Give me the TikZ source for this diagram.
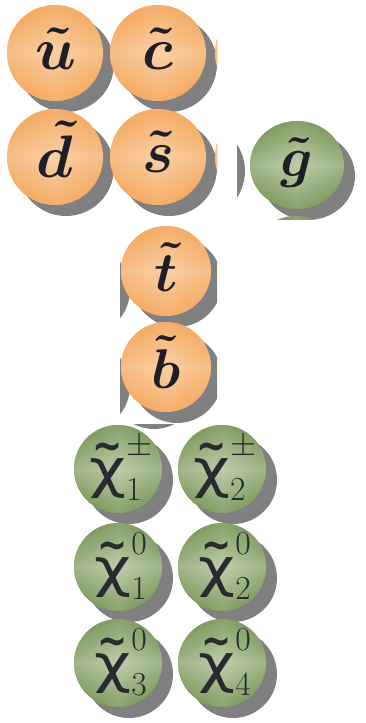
\RequirePackage{fix-cm}
\documentclass[tikz,border=0pt]{standalone}
\usepackage{graphicx}
\usepackage{fontspec}
\newfontfamily\chifont{DejaVu Sans}
\usetikzlibrary{calc}
\definecolor{sqedge}{HTML}{F39F4E}
\definecolor{sqlight}{HTML}{FDE6CC}
\definecolor{gnedge}{HTML}{6C8C48}
\definecolor{gnlight}{HTML}{E2EAD6}
\definecolor{shadowgray}{HTML}{808080}
\definecolor{ink}{HTML}{1E1E26}
\newcommand{\dropoff}{11}
\tikzset{
  balldrop/.style={fill=shadowgray},
  sqlbl/.style={text=ink, inner sep=0pt, font=\fontsize{60}{60}\selectfont\boldmath},
  tblbl/.style={sqlbl, font=\fontsize{56}{56}\selectfont\boldmath},
  chilbl/.style={text=ink!95, inner sep=0pt, font=\fontsize{48}{48}\selectfont},
}
\newcommand{\BallDrops}[2]{%
  \foreach \bx/\by in {#2} {
    \fill[balldrop] ({\bx+\dropoff},{\by+\dropoff}) circle[#1];
  }
}
\newcommand{\BallFills}[3]{%
  \foreach \bx/\by in {#3} {
    \fill[#2edge] (\bx,\by) circle[#1];
    \shade[left color=#2edge, right color=#2edge, middle color=#2light, fill opacity=.45] (\bx,\by) circle[#1];
    \shade[top color=#2edge, bottom color=#2edge, middle color=#2light, fill opacity=.45] (\bx,\by) circle[#1];
  }
}
\newcommand{\Chi}{\mbox{\chifont\vbox{\offinterlineskip\halign{\hfil##\hfil\cr
  \scalebox{0.75}[0.9]{\bfseries\char"007E}\cr\noalign{\kern-2pt}
  \scalebox{1.33}[1.1]{χ}\cr}}}}

\begin{document}
\begin{tikzpicture}[x=1pt,y=-1pt]
  \fill[white] (0,0) rectangle (365,723);
  \useasboundingbox (0,0) rectangle (365,723);
  \begin{scope}
    \clip (0,0) rectangle (217,219);
    \BallDrops{radius=48pt}{55/53,158/53,55/157,158/157}
    \BallFills{radius=48pt}{sq}{55/53,158/53,55/157,158/157,263/53,263/157}
    \foreach \q/\qx/\qy in {u/56/49,c/158/49,d/55/149,s/158/152}
      \node[sqlbl] (sq\q) at (\qx,\qy) {$\tilde{\q}$};
  \end{scope}
  \begin{scope}
    \clip (237,100) rectangle (365,219);
    \BallDrops{radius=48pt}{186/160}
    \BallDrops{x radius=47pt, y radius=44pt}{297/165}
    \BallFills{x radius=47pt, y radius=44pt}{gn}{297/165}
    \BallFills{radius=46pt}{gn}{296/262}
    \node[tblbl] (gluino) at (297,162) {$\tilde{g}$};
  \end{scope}
  \begin{scope}
    \clip (120,222) rectangle (217,423);
    \BallDrops{radius=45pt}{74/279,74/375,166/271,166/367}
    \BallFills{radius=45pt}{sq}{166/271,166/367}
    \node[tblbl] (sqt) at (166,267) {$\tilde{t}$};
    \node[tblbl] (sqb) at (166,362) {$\tilde{b}$};
  \end{scope}
  \begin{scope}
    \clip (0,424) rectangle (365,723);
    \BallDrops{radius=44pt}{143/374,118/469,222/469,118/567,222/567,118/663,222/663}
    \BallFills{radius=44pt}{gn}{118/469,222/469,118/567,222/567,118/663,222/663}
    \foreach \cx/\cy/\csup/\csub [count=\i] in {118/469/\pm/1,222/469/\pm/2,118/567/0/1,222/567/0/2,118/663/0/3,222/663/0/4}
      \node[chilbl] (chi\i) at (\cx+3,\cy-1) {$\Chi^{\csup}_{\csub}$};
  \end{scope}
\end{tikzpicture}
\end{document}
